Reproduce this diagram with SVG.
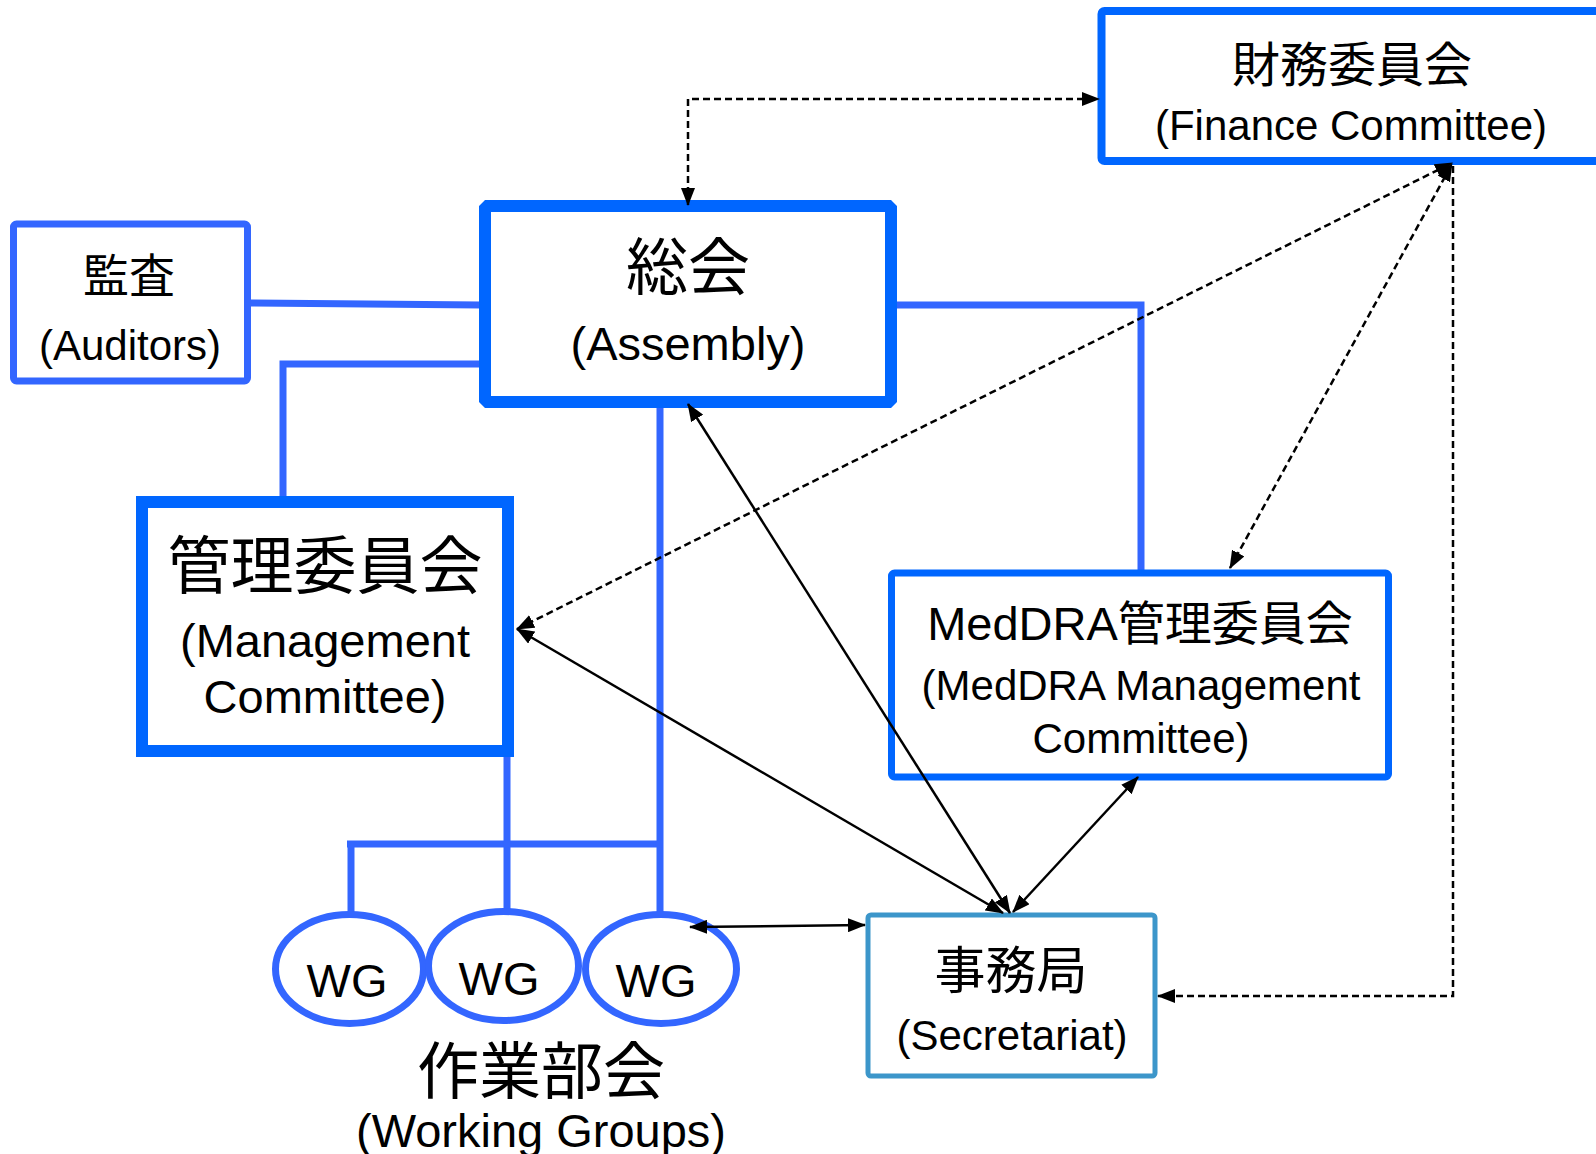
<svg xmlns="http://www.w3.org/2000/svg" width="1596" height="1154" viewBox="0 0 1596 1154">
<style>
.box{fill:#fff;stroke:#0066FF}
.lt{fill:#fff;stroke:#3366FF}
.conn{fill:none;stroke:#3366FF;stroke-width:7}
.arr{fill:none;stroke:#000;stroke-width:2.5}
.dash{stroke-dasharray:7 4}
.t{font-family:"Liberation Sans","Noto Sans CJK JP",Arial,sans-serif;fill:#000;text-anchor:middle}
.j{font-family:"Noto Sans CJK JP","Liberation Sans",sans-serif;fill:#000;text-anchor:middle}
</style>
<defs>
<marker id="ah" viewBox="0 0 18 14" refX="17" refY="7" markerWidth="18" markerHeight="14" markerUnits="userSpaceOnUse" orient="auto-start-reverse">
<path d="M0,0 L18,7 L0,14 z" fill="#000"/>
</marker>
</defs>
<rect width="1596" height="1154" fill="#fff"/>
<g id="connectors-lines">
<path class="conn" d="M247,303 L481,305"/>
<path class="conn" d="M481,364 L283,364 L283,499"/>
<path class="conn" d="M891,305 L1141,305 L1141,572"/>
<path class="conn" d="M660,402 L660,912"/>
<path class="conn" d="M507,751 L507,909"/>
<path class="conn" d="M347,844 L663,844"/>
<path class="conn" d="M351,841 L351,912"/>
</g>
<g id="finance">
<rect class="box" x="1101.5" y="11" width="520" height="150" rx="3" stroke-width="8"/>
<text class="j" x="1352" y="82" font-size="48">財務委員会</text>
<text class="t" x="1351" y="140" font-size="42">(Finance Committee)</text>
</g>
<g id="assembly">
<rect class="box" x="485" y="206" width="406" height="196" stroke-width="12" stroke-linejoin="bevel"/>
<text class="j" x="688" y="290" font-size="62">総会</text>
<text class="t" x="688" y="360" font-size="47">(Assembly)</text>
</g>
<g id="auditors">
<rect class="lt" x="13.5" y="224" width="234" height="157" rx="3" stroke-width="7"/>
<text class="j" x="129" y="292" font-size="46">監査</text>
<text class="t" x="130" y="360" font-size="42">(Auditors)</text>
</g>
<g id="management">
<rect class="box" x="142" y="502" width="366" height="249" stroke-width="12"/>
<text class="j" x="325" y="588" font-size="63">管理委員会</text>
<text class="t" x="325" y="657" font-size="47">(Management</text>
<text class="t" x="325" y="713" font-size="47">Committee)</text>
</g>
<g id="meddra">
<rect class="box" x="891.5" y="573" width="497" height="204" rx="3" stroke-width="7"/>
<text class="t" x="1140" y="640" font-size="47">MedDRA管理委員会</text>
<text class="t" x="1141" y="700" font-size="42">(MedDRA Management</text>
<text class="t" x="1141" y="753" font-size="42">Committee)</text>
</g>
<g id="wg1">
<ellipse class="lt" cx="349.5" cy="969" rx="74" ry="54.5" stroke-width="7"/>
<text class="t" x="347" y="997" font-size="47">WG</text>
</g>
<g id="wg2">
<ellipse class="lt" cx="503.5" cy="966" rx="75" ry="54.5" stroke-width="7"/>
<text class="t" x="499" y="995" font-size="47">WG</text>
</g>
<g id="wg3">
<ellipse class="lt" cx="661" cy="969" rx="75.5" ry="54.5" stroke-width="7"/>
<text class="t" x="656" y="997" font-size="47">WG</text>
</g>
<g id="working-groups-label">
<text class="j" x="541" y="1094" font-size="62">作業部会</text>
<text class="t" x="541" y="1147" font-size="47">(Working Groups)</text>
</g>
<g id="secretariat">
<rect x="868" y="915" width="287" height="161" rx="3" fill="#fff" stroke="#3C96CA" stroke-width="5"/>
<text class="j" x="1011" y="989" font-size="51">事務局</text>
<text class="t" x="1012" y="1050" font-size="42">(Secretariat)</text>
</g>
<g id="connectors">
<path class="arr dash" d="M688,205 L688,99 L1099,99" marker-start="url(#ah)" marker-end="url(#ah)"/>
<path class="arr dash" d="M517,629 L1452,163" marker-start="url(#ah)" marker-end="url(#ah)"/>
<path class="arr dash" d="M1230,568 L1452,164" marker-start="url(#ah)" marker-end="url(#ah)"/>
<path class="arr dash" d="M1453,166 L1453,996 L1158,996" marker-end="url(#ah)"/>
<path class="arr" d="M688,404 L1010,913" marker-start="url(#ah)" marker-end="url(#ah)"/>
<path class="arr" d="M517,629 L1003,913" marker-start="url(#ah)" marker-end="url(#ah)"/>
<path class="arr" d="M1138,777 L1013,912" marker-start="url(#ah)" marker-end="url(#ah)"/>
<path class="arr" d="M690,927 L865,925" marker-start="url(#ah)" marker-end="url(#ah)"/>
</g>
</svg>
